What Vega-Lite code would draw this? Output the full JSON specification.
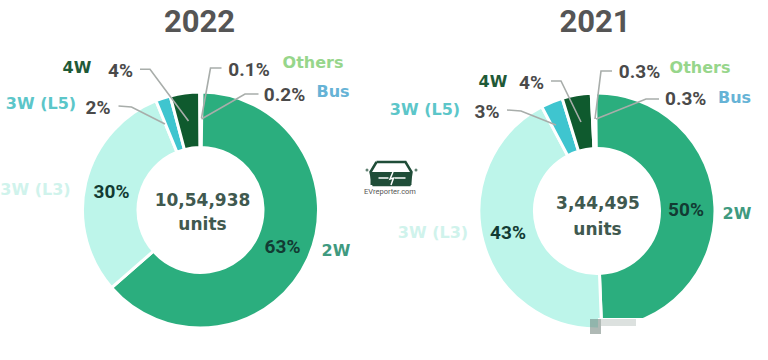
{
"$schema":"https://vega.github.io/schema/vega-lite/v6.json",
"padding":0,
"autosize":{"type":"pad"},
"background":"white",
"spacing":0,
"bounds":"flush",
"config":{"view":{"stroke":null}},
"datasets":{
"slices":[
{"year":"2022","segment":"2W","share":63,"rank":1},
{"year":"2022","segment":"3W (L3)","share":30,"rank":2},
{"year":"2022","segment":"3W (L5)","share":2,"rank":3},
{"year":"2022","segment":"4W","share":4,"rank":4},
{"year":"2022","segment":"Others","share":0.1,"rank":5},
{"year":"2022","segment":"Bus","share":0.2,"rank":6},
{"year":"2021","segment":"2W","share":50,"rank":1},
{"year":"2021","segment":"3W (L3)","share":43,"rank":2},
{"year":"2021","segment":"3W (L5)","share":3,"rank":3},
{"year":"2021","segment":"4W","share":4,"rank":4},
{"year":"2021","segment":"Others","share":0.3,"rank":5},
{"year":"2021","segment":"Bus","share":0.3,"rank":6}
],
"labels":[
{"year":"2022","role":"title","text":"2022","x":-1,"y":187},
{"year":"2022","role":"centre","text":"10,54,938","x":2,"y":9},
{"year":"2022","role":"centre","text":"units","x":2,"y":-15},
{"year":"2022","role":"percent","text":"63%","x":82,"y":-37},
{"year":"2022","role":"percent","text":"30%","x":-89,"y":18},
{"year":"2022","role":"outside","text":"2%","x":-102.5,"y":102},
{"year":"2022","role":"outside","text":"4%","x":-80,"y":139},
{"year":"2022","role":"outside","text":"0.1%","x":48.5,"y":140},
{"year":"2022","role":"outside","text":"0.2%","x":84,"y":115},
{"year":"2022","role":"category","segment":"2W","text":"2W","x":135.5,"y":-41},
{"year":"2022","role":"category","segment":"3W (L3)","text":"3W (L3)","x":-165,"y":20},
{"year":"2022","role":"category","segment":"3W (L5)","text":"3W (L5)","x":-159.5,"y":106},
{"year":"2022","role":"category","segment":"4W","text":"4W","x":-123.5,"y":142},
{"year":"2022","role":"category","segment":"Others","text":"Others","x":112.5,"y":147},
{"year":"2022","role":"category","segment":"Bus","text":"Bus","x":132.5,"y":118},
{"year":"2021","role":"title","text":"2021","x":-2,"y":188},
{"year":"2021","role":"centre","text":"3,44,495","x":1,"y":7},
{"year":"2021","role":"centre","text":"units","x":0.5,"y":-19},
{"year":"2021","role":"percent","text":"50%","x":89,"y":1},
{"year":"2021","role":"percent","text":"43%","x":-89,"y":-22},
{"year":"2021","role":"outside","text":"3%","x":-110,"y":99},
{"year":"2021","role":"outside","text":"4%","x":-65.5,"y":128},
{"year":"2021","role":"outside","text":"0.3%","x":42.5,"y":139},
{"year":"2021","role":"outside","text":"0.3%","x":88.7,"y":112},
{"year":"2021","role":"category","segment":"2W","text":"2W","x":140,"y":-3},
{"year":"2021","role":"category","segment":"3W (L3)","text":"3W (L3)","x":-164,"y":-22},
{"year":"2021","role":"category","segment":"3W (L5)","text":"3W (L5)","x":-172,"y":101},
{"year":"2021","role":"category","segment":"4W","text":"4W","x":-104,"y":129},
{"year":"2021","role":"category","segment":"Others","text":"Others","x":103,"y":143},
{"year":"2021","role":"category","segment":"Bus","text":"Bus","x":137.5,"y":113}
],
"leaders":[
{"year":"2022","id":"4W","i":1,"x":-60.5,"y":140.7},{"year":"2022","id":"4W","i":2,"x":-50.5,"y":140.7},{"year":"2022","id":"4W","i":3,"x":-12,"y":89},
{"year":"2022","id":"L5","i":1,"x":-82,"y":104},{"year":"2022","id":"L5","i":2,"x":-69,"y":103},{"year":"2022","id":"L5","i":3,"x":-35.5,"y":86},
{"year":"2022","id":"Others","i":1,"x":21,"y":142},{"year":"2022","id":"Others","i":2,"x":10,"y":142},{"year":"2022","id":"Others","i":3,"x":1,"y":92},
{"year":"2022","id":"Bus","i":1,"x":58,"y":116},{"year":"2022","id":"Bus","i":2,"x":44.5,"y":116},{"year":"2022","id":"Bus","i":3,"x":1,"y":91},
{"year":"2021","id":"4W","i":1,"x":-46,"y":130},{"year":"2021","id":"4W","i":2,"x":-36,"y":130},{"year":"2021","id":"4W","i":3,"x":-16,"y":89},
{"year":"2021","id":"L5","i":1,"x":-90,"y":101},{"year":"2021","id":"L5","i":2,"x":-76,"y":100},{"year":"2021","id":"L5","i":3,"x":-41,"y":86},
{"year":"2021","id":"Others","i":1,"x":15,"y":140},{"year":"2021","id":"Others","i":2,"x":4,"y":140},{"year":"2021","id":"Others","i":3,"x":-2,"y":92},
{"year":"2021","id":"Bus","i":1,"x":62,"y":112},{"year":"2021","id":"Bus","i":2,"x":49,"y":112},{"year":"2021","id":"Bus","i":3,"x":-1,"y":92}
],
"logoBody":[{"x":170,"x2":211,"y":38,"y2":25}],
"logoOutline":[
{"i":1,"x":176,"y":48},{"i":2,"x":205,"y":48},{"i":3,"x":211,"y":38},{"i":4,"x":209,"y":25},{"i":5,"x":173,"y":25},{"i":6,"x":170,"y":38},{"i":7,"x":176,"y":48}
],
"logoMarks":[
{"id":"a","i":1,"x":178,"y":32},{"id":"a","i":2,"x":188,"y":32},
{"id":"b","i":1,"x":194,"y":32},{"id":"b","i":2,"x":205,"y":32},
{"id":"c","i":1,"x":192.5,"y":38},{"id":"c","i":2,"x":189.5,"y":31},{"id":"c","i":3,"x":193,"y":32},{"id":"c","i":4,"x":190.5,"y":25}
],
"logoDots":[{"x":166.5,"y":40},{"x":215.5,"y":40}],
"logoText":[{"text":"EVreporter.com","x":189.5,"y":18}],
"scanPatch":[
{"kind":"mask","x":1,"x2":66,"y":-107,"y2":-124},
{"kind":"noise","x":-7,"x2":4,"y":-108,"y2":-123},
{"kind":"faint","x":4,"x2":39,"y":-108,"y2":-115}
]
},
"hconcat":[
{"width":384,"height":360,
"layer":[
{"data":{"name":"slices"},"transform":[{"filter":"datum.year==='2022'"},{"stack":"share","groupby":["year"],"sort":[{"field":"rank","order":"ascending"}],"as":["start","end"]}],
"mark":{"type":"arc","outerRadius":118,"innerRadius":62.5,"stroke":"white","strokeWidth":3},
"encoding":{
"x":{"datum":0,"type":"quantitative","axis":null,"scale":{"domain":[-200.5,183.5],"nice":false,"zero":false}},
"y":{"datum":0,"type":"quantitative","axis":null,"scale":{"domain":[-150,210],"nice":false,"zero":false}},
"theta":{"field":"start","type":"quantitative","stack":null,"scale":{"nice":false}},
"theta2":{"field":"end"},
"fill":{"field":"segment","type":"nominal","legend":null,"scale":{"domain":["2W","3W (L3)","3W (L5)","4W","Others","Bus"],"range":["#2BAE7E","#BDF5EA","#3FC5CF","#0F5A2E","#FFFFFF","#FFFFFF"]}}
}},
{"encoding":{
"x":{"field":"x","type":"quantitative","axis":null,"scale":{"domain":[-200.5,183.5],"nice":false,"zero":false}},
"y":{"field":"y","type":"quantitative","axis":null,"scale":{"domain":[-150,210],"nice":false,"zero":false}}
},
"layer":[
{"data":{"name":"leaders"},"transform":[{"filter":"datum.year==='2022'"}],
"mark":{"type":"line","stroke":"#A8ADAA","strokeWidth":1.6},
"encoding":{"detail":{"field":"id"},"order":{"field":"i","type":"quantitative"}}},
{"data":{"name":"labels"},"transform":[{"filter":"datum.year==='2022' && datum.role==='title'"}],
"mark":{"type":"text","font":"Roboto","fontWeight":"bold","fontSize":31,"fill":"#555555"},"encoding":{"text":{"field":"text"}}},
{"data":{"name":"labels"},"transform":[{"filter":"datum.year==='2022' && datum.role==='centre'"}],
"mark":{"type":"text","font":"DejaVu Sans","fontWeight":"bold","fontSize":17,"fill":"#40594F"},"encoding":{"text":{"field":"text"}}},
{"data":{"name":"labels"},"transform":[{"filter":"datum.year==='2022' && datum.role==='percent'"}],
"mark":{"type":"text","font":"Roboto","fontWeight":"bold","fontSize":19,"fill":"#123B33"},"encoding":{"text":{"field":"text"}}},
{"data":{"name":"labels"},"transform":[{"filter":"datum.year==='2022' && datum.role==='outside'"}],
"mark":{"type":"text","font":"Roboto","fontWeight":"bold","fontSize":19,"fill":"#4A4A4A"},"encoding":{"text":{"field":"text"}}},
{"data":{"name":"labels"},"transform":[{"filter":"datum.year==='2022' && datum.role==='category'"}],
"mark":{"type":"text","font":"DejaVu Sans","fontWeight":"bold","fontSize":16},
"encoding":{"text":{"field":"text"},"color":{"field":"segment","type":"nominal","legend":null,"scale":{"domain":["2W","3W (L3)","3W (L5)","4W","Others","Bus"],"range":["#3F9A80","#D0F3EC","#5CC6C9","#1F5A37","#97D68B","#66B3D6"]}}}},
{"data":{"name":"logoBody"},"mark":{"type":"rect","fill":"#1F4D38"},"encoding":{"x2":{"field":"x2"},"y2":{"field":"y2"}}},
{"data":{"name":"logoOutline"},"mark":{"type":"line","stroke":"#1F4D38","strokeWidth":2.5},"encoding":{"order":{"field":"i","type":"quantitative"}}},
{"data":{"name":"logoMarks"},"mark":{"type":"line","stroke":"white","strokeWidth":1.5},"encoding":{"detail":{"field":"id"},"order":{"field":"i","type":"quantitative"}}},
{"data":{"name":"logoDots"},"mark":{"type":"point","filled":true,"size":9,"color":"#1F4D38"}},
{"data":{"name":"logoText"},"mark":{"type":"text","font":"Roboto","fontSize":7.5,"fill":"#555555"},"encoding":{"text":{"field":"text"}}}
]}
]},
{"width":384,"height":360,
"layer":[
{"data":{"name":"slices"},"transform":[{"filter":"datum.year==='2021'"},{"stack":"share","groupby":["year"],"sort":[{"field":"rank","order":"ascending"}],"as":["start","end"]}],
"mark":{"type":"arc","outerRadius":118,"innerRadius":62.5,"stroke":"white","strokeWidth":3},
"encoding":{
"x":{"datum":0,"type":"quantitative","axis":null,"scale":{"domain":[-213,171],"nice":false,"zero":false}},
"y":{"datum":0,"type":"quantitative","axis":null,"scale":{"domain":[-149,211],"nice":false,"zero":false}},
"theta":{"field":"start","type":"quantitative","stack":null,"scale":{"nice":false,"range":[-0.03,6.253]}},
"theta2":{"field":"end"},
"fill":{"field":"segment","type":"nominal","legend":null,"scale":{"domain":["2W","3W (L3)","3W (L5)","4W","Others","Bus"],"range":["#2BAE7E","#BDF5EA","#3FC5CF","#0F5A2E","#FFFFFF","#FFFFFF"]}}
}},
{"encoding":{
"x":{"field":"x","type":"quantitative","axis":null,"scale":{"domain":[-213,171],"nice":false,"zero":false}},
"y":{"field":"y","type":"quantitative","axis":null,"scale":{"domain":[-149,211],"nice":false,"zero":false}}
},
"layer":[
{"data":{"name":"scanPatch"},"transform":[{"filter":"datum.kind==='mask'"}],"mark":{"type":"rect","fill":"white"},"encoding":{"x2":{"field":"x2"},"y2":{"field":"y2"}}},
{"data":{"name":"scanPatch"},"transform":[{"filter":"datum.kind==='noise'"}],"mark":{"type":"rect","fill":"#6E7F78","opacity":0.55},"encoding":{"x2":{"field":"x2"},"y2":{"field":"y2"}}},
{"data":{"name":"scanPatch"},"transform":[{"filter":"datum.kind==='faint'"}],"mark":{"type":"rect","fill":"#9AA8A2","opacity":0.35},"encoding":{"x2":{"field":"x2"},"y2":{"field":"y2"}}},
{"data":{"name":"leaders"},"transform":[{"filter":"datum.year==='2021'"}],
"mark":{"type":"line","stroke":"#A8ADAA","strokeWidth":1.6},
"encoding":{"detail":{"field":"id"},"order":{"field":"i","type":"quantitative"}}},
{"data":{"name":"labels"},"transform":[{"filter":"datum.year==='2021' && datum.role==='title'"}],
"mark":{"type":"text","font":"Roboto","fontWeight":"bold","fontSize":31,"fill":"#555555"},"encoding":{"text":{"field":"text"}}},
{"data":{"name":"labels"},"transform":[{"filter":"datum.year==='2021' && datum.role==='centre'"}],
"mark":{"type":"text","font":"DejaVu Sans","fontWeight":"bold","fontSize":17,"fill":"#40594F"},"encoding":{"text":{"field":"text"}}},
{"data":{"name":"labels"},"transform":[{"filter":"datum.year==='2021' && datum.role==='percent'"}],
"mark":{"type":"text","font":"Roboto","fontWeight":"bold","fontSize":19,"fill":"#123B33"},"encoding":{"text":{"field":"text"}}},
{"data":{"name":"labels"},"transform":[{"filter":"datum.year==='2021' && datum.role==='outside'"}],
"mark":{"type":"text","font":"Roboto","fontWeight":"bold","fontSize":19,"fill":"#4A4A4A"},"encoding":{"text":{"field":"text"}}},
{"data":{"name":"labels"},"transform":[{"filter":"datum.year==='2021' && datum.role==='category'"}],
"mark":{"type":"text","font":"DejaVu Sans","fontWeight":"bold","fontSize":16},
"encoding":{"text":{"field":"text"},"color":{"field":"segment","type":"nominal","legend":null,"scale":{"domain":["2W","3W (L3)","3W (L5)","4W","Others","Bus"],"range":["#3F9A80","#D0F3EC","#5CC6C9","#1F5A37","#97D68B","#66B3D6"]}}}}
]}
]}
]
}
